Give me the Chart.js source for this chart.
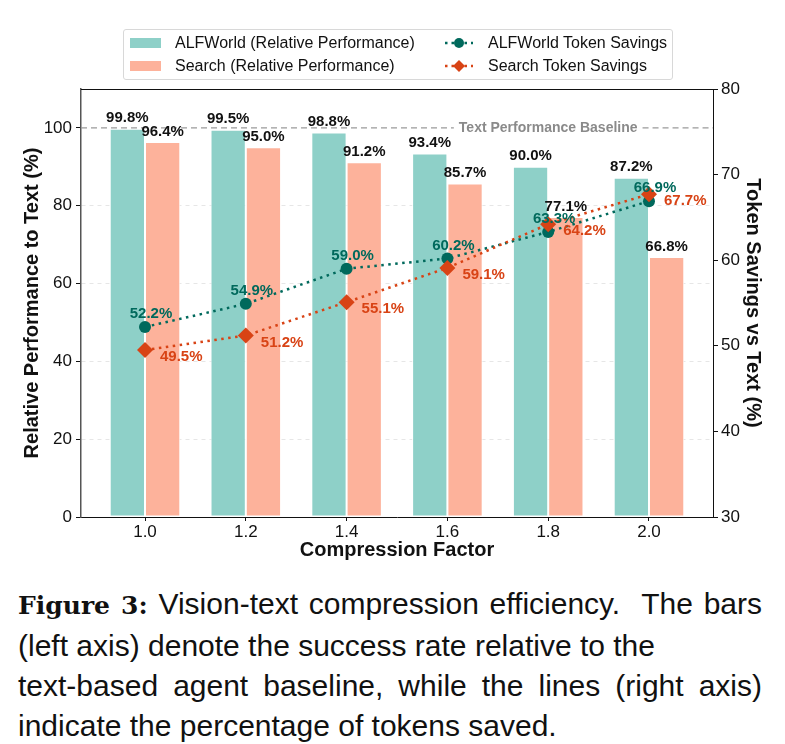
<!DOCTYPE html>
<html>
<head>
<meta charset="utf-8">
<script src="https://cdn.jsdelivr.net/npm/chart.js@4.4.1/dist/chart.umd.min.js"></script>
<style>
  html, body { margin: 0; padding: 0; background: #fff; }
  #wrap { position: relative; width: 785px; height: 744px; overflow: hidden; }
  #c { position: absolute; left: 0; top: 0; }
  #legend {
    position: absolute; left: 123px; top: 29px; width: 550px; height: 51px;
    border: 1px solid #d8d8d8; border-radius: 3px; box-sizing: border-box;
    font-family: "Liberation Sans", Arial, sans-serif; font-size: 16px; color: #111;
  }
  .li { position: absolute; height: 20px; line-height: 20px; white-space: nowrap; }
  .li .sw { position: absolute; left: 0; top: 5px; width: 31px; height: 10px; }
  .li svg { position: absolute; left: 0; top: 0; }
  .li .tx { position: absolute; top: 0; }
  #caption {
    position: absolute; left: 18px; top: 584px; width: 744px;
    font-family: "Liberation Sans", Arial, sans-serif;
    font-size: 30px; line-height: 40px; color: #111;
  }
  #caption div { white-space: nowrap; }
  #caption .j { text-align: justify; text-align-last: justify; white-space: normal; }
  #caption b { font-family: "DejaVu Serif", serif; font-weight: bold; font-size: 25px; }
</style>
</head>
<body>
<div id="wrap">
  <canvas id="c" width="785" height="575"></canvas>
  <div id="legend"></div>
  <div id="caption">
    <div class="j"><b>Figure 3:</b> Vision-text compression efficiency.&nbsp; The bars</div>
    <div>(left axis) denote the success rate relative to the</div>
    <div class="j">text-based agent baseline, while the lines (right axis)</div>
    <div>indicate the percentage of tokens saved.</div>
  </div>
</div>
<script>
// ---- data ----
const compressionFactors = [1.0, 1.2, 1.4, 1.6, 1.8, 2.0];
const alfworldPerf = [99.8, 99.5, 98.8, 93.4, 90.0, 87.2];
const searchPerf = [96.4, 95.0, 91.2, 85.7, 77.1, 66.8];
const alfworldSavings = [52.2, 54.9, 59.0, 60.2, 63.3, 66.9];
const searchSavings = [49.5, 51.2, 55.1, 59.1, 64.2, 67.7];
const leftTicks = [0, 20, 40, 60, 80, 100];
const rightTicks = [30, 40, 50, 60, 70, 80];
const baselineValue = 100;
const baselineLabel = "Text Performance Baseline";
const seriesNames = ["ALFWorld (Relative Performance)", "Search (Relative Performance)", "ALFWorld Token Savings", "Search Token Savings"];

const C_ALF_BAR = '#8ed0c8';
const C_SEA_BAR = '#fdb29b';
const C_ALF_LINE = '#00695c';
const C_SEA_LINE = '#d84315';

const pts = arr => arr.map((v, i) => ({ x: compressionFactors[i], y: v }));

const TICK_FONT = { family: '"Liberation Sans", Arial, sans-serif', size: 17 };
const TITLE_FONT = { family: '"Liberation Sans", Arial, sans-serif', size: 20, weight: 'bold' };
const LABEL_FONT = 'bold 15px "Liberation Sans", Arial, sans-serif';

const labelPlugin = {
  id: 'labels',
  afterDatasetsDraw(chart) {
    const ctx = chart.ctx;
    ctx.save();
    const ys = chart.scales.y, xs = chart.scales.x, ca = chart.chartArea;
    // top spine
    ctx.strokeStyle = '#111'; ctx.lineWidth = 1;
    ctx.beginPath(); ctx.moveTo(ca.left, ca.top + 0.5); ctx.lineTo(ca.right, ca.top + 0.5); ctx.stroke();
    // baseline
    const yb = ys.getPixelForValue(baselineValue);
    ctx.font = 'bold 14px "Liberation Sans", Arial, sans-serif';
    const tx = xs.getPixelForValue(1.8);
    const tw = ctx.measureText(baselineLabel).width;
    ctx.strokeStyle = '#9a9a9a';
    ctx.lineWidth = 1.3;
    ctx.setLineDash([6, 4]);
    ctx.beginPath();
    ctx.moveTo(ca.left, yb); ctx.lineTo(tx - tw / 2 - 5, yb);
    ctx.moveTo(tx + tw / 2 + 5, yb); ctx.lineTo(ca.right, yb);
    ctx.stroke();
    ctx.setLineDash([]);
    ctx.fillStyle = '#8a8a8a';
    ctx.textAlign = 'center'; ctx.textBaseline = 'middle';
    ctx.fillText(baselineLabel, tx, yb);

    // bar labels
    ctx.font = LABEL_FONT;
    ctx.fillStyle = '#111';
    ctx.textBaseline = 'bottom';
    [0, 1].forEach(di => {
      const meta = chart.getDatasetMeta(di);
      const data = chart.data.datasets[di].data;
      meta.data.forEach((el, i) => {
        ctx.fillText(data[i].y.toFixed(1) + '%', el.x, el.y - 3);
      });
    });
    // line labels
    const m2 = chart.getDatasetMeta(2), d2 = chart.data.datasets[2].data;
    ctx.fillStyle = C_ALF_LINE; ctx.textAlign = 'center'; ctx.textBaseline = 'middle';
    m2.data.forEach((el, i) => ctx.fillText(d2[i].y.toFixed(1) + '%', el.x + 6, el.y - 13));
    const m3 = chart.getDatasetMeta(3), d3 = chart.data.datasets[3].data;
    ctx.fillStyle = C_SEA_LINE; ctx.textAlign = 'left';
    m3.data.forEach((el, i) => ctx.fillText(d3[i].y.toFixed(1) + '%', el.x + 15, el.y + 7));
    ctx.restore();
  }
};

const chart = new Chart(document.getElementById('c'), {
  data: {
    datasets: [
      { type: 'bar', label: seriesNames[0], data: pts(alfworldPerf), yAxisID: 'y', backgroundColor: C_ALF_BAR, borderColor: '#fff', borderWidth: 1, borderSkipped: false, order: 2 },
      { type: 'bar', label: seriesNames[1], data: pts(searchPerf), yAxisID: 'y', backgroundColor: C_SEA_BAR, borderColor: '#fff', borderWidth: 1, borderSkipped: false, order: 2 },
      { type: 'line', label: seriesNames[2], data: pts(alfworldSavings), yAxisID: 'y1', borderColor: C_ALF_LINE, backgroundColor: C_ALF_LINE, borderWidth: 2.5, borderDash: [2.5, 4.5], pointStyle: 'circle', pointRadius: 6, pointBorderWidth: 0, tension: 0, order: 1 },
      { type: 'line', label: seriesNames[3], data: pts(searchSavings), yAxisID: 'y1', borderColor: C_SEA_LINE, backgroundColor: C_SEA_LINE, borderWidth: 2.5, borderDash: [2.5, 4.5], pointStyle: 'rectRot', pointRadius: 8, pointBorderWidth: 0, tension: 0, order: 0 }
    ]
  },
  options: {
    responsive: false,
    animation: false,
    layout: { padding: { top: 89, left: 0, right: 0, bottom: 0 } },
    datasets: { bar: { categoryPercentage: 0.7, barPercentage: 1.0, grouped: true } },
    plugins: { legend: { display: false }, tooltip: { enabled: false } },
    scales: {
      x: {
        type: 'linear', min: 0.873, max: 2.127, offset: false,
        afterBuildTicks: s => { s.ticks = compressionFactors.map(v => ({ value: v })); },
        afterFit: s => { s.height = 58; },
        ticks: { font: TICK_FONT, color: '#111', padding: 1, callback: v => Number(v).toFixed(1), autoSkip: false, maxRotation: 0 },
        grid: { display: true, offset: false, drawOnChartArea: false, drawTicks: true, tickLength: 4, tickColor: '#111' },
        border: { display: true, color: '#111', width: 1 },
        title: { display: true, text: 'Compression Factor', font: TITLE_FONT, color: '#111', padding: { top: 0, bottom: 13 } }
      },
      y: {
        type: 'linear', position: 'left', min: 0, max: 110,
        afterBuildTicks: s => { s.ticks = leftTicks.map(v => ({ value: v })); },
        afterFit: s => { s.width = 81; },
        ticks: { font: TICK_FONT, color: '#111', padding: 4 },
        grid: { color: c => (c.tick && c.tick.value > 0 && c.tick.value < 100) ? '#e6e6e6' : 'rgba(0,0,0,0)', lineWidth: 1, tickLength: 5, tickColor: '#111', drawTicks: true },
        border: { display: true, color: '#555', width: 1.5, dash: [4, 4] },
        title: { display: true, text: 'Relative Performance to Text (%)', font: TITLE_FONT, color: '#111', padding: { top: 20, bottom: 0 } }
      },
      y1: {
        type: 'linear', position: 'right', min: 30, max: 80,
        afterBuildTicks: s => { s.ticks = rightTicks.map(v => ({ value: v })); },
        afterFit: s => { s.width = 72; },
        ticks: { font: TICK_FONT, color: '#111', padding: 3 },
        grid: { drawOnChartArea: false, drawTicks: true, tickLength: 5, tickColor: '#111' },
        border: { display: true, color: '#111', width: 1 },
        title: { display: true, text: 'Token Savings vs Text (%)', font: TITLE_FONT, color: '#111', padding: { top: 20, bottom: 0 } }
      }
    }
  },
  plugins: [labelPlugin]
});

// HTML legend built from the chart's datasets
const lg = document.getElementById('legend');
const pos = [[6, 3, 51], [6, 26, 51], [320, 3, 364], [320, 26, 364]];
chart.data.datasets.forEach((ds, i) => {
  const d = document.createElement('div');
  d.className = 'li';
  d.style.left = pos[i][0] + 'px'; d.style.top = pos[i][1] + 'px';
  let mk;
  if (ds.type === 'bar') {
    mk = `<div class="sw" style="background:${ds.backgroundColor}"></div>`;
  } else {
    const c = ds.borderColor;
    const shape = ds.pointStyle === 'circle'
      ? `<circle cx="15" cy="10" r="5" fill="${c}"/>`
      : `<polygon points="15,4 21,10 15,16 9,10" fill="${c}"/>`;
    mk = `<svg width="30" height="20"><line x1="1" y1="10" x2="29" y2="10" stroke="${c}" stroke-width="2.5" stroke-dasharray="2.5 4"/>${shape}</svg>`;
  }
  const txLeft = pos[i][2] - pos[i][0];
  d.innerHTML = mk + `<span class="tx" style="left:${txLeft}px">${ds.label}</span>`;
  lg.appendChild(d);
});
</script>
</body>
</html>
